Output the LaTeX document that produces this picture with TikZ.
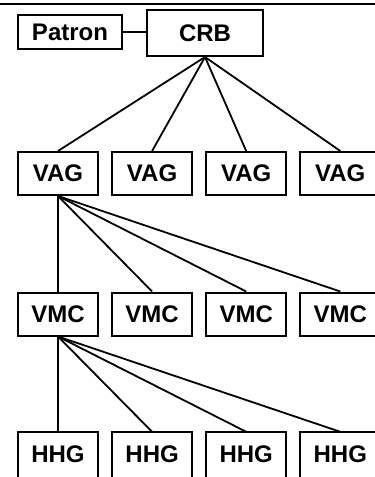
\documentclass[tikz,border=0pt]{standalone}
\usepackage{fontspec}
\setmainfont{Liberation Sans}
\begin{document}
\begin{tikzpicture}[x=1pt,y=-1pt,
  lbl/.style={font=\fontsize{24}{28}\selectfont\bfseries, inner sep=0pt},
  box/.style={lbl, draw, line width=2pt, minimum width=80pt, minimum height=43pt},
  openbox/.style={lbl, minimum width=80pt, minimum height=45pt},
  link/.style={line width=1.8pt}]
\useasboundingbox (0,0) rectangle (375,477);
\clip (0,0) rectangle (375,477);
\fill[white] (0,0) rectangle (375,477);

% frame edge along the top
\coordinate (tl) at (-5,4);
\coordinate (tr) at (380,4);
\draw[line width=2pt] (tl) -- (tr);

% root
\node[box, minimum width=104pt, minimum height=34pt] (patron) at (70,32) {Patron};
\node[box, minimum width=116pt, minimum height=46pt] (crb) at (205,33) {CRB};
\draw[link] (patron.east) -- (patron.east -| crb.west);

% three levels of four boxes each; the lowest row runs past the bottom edge
\foreach \i in {1,...,4} {
  \pgfmathsetmacro{\cx}{58 + (\i-1)*94.1}
  \node[box] (vag\i) at (\cx,173.5) {VAG};
  \node[box] (vmc\i) at (\cx,314) {VMC};
  \node[openbox] (hhg\i) at (\cx,454.5) {HHG};
  \draw[line width=2pt] ([yshift=-10pt]hhg\i.south west) |- (hhg\i.north east) -- ([yshift=-10pt]hhg\i.south east);
}

% connectors
\foreach \i in {1,...,4} {
  \draw[link] (crb.south) -- (vag\i.north);
  \draw[link] (vag1.south) -- (vmc\i.north);
  \draw[link] (vmc1.south) -- (hhg\i.north);
}
\end{tikzpicture}
\end{document}
